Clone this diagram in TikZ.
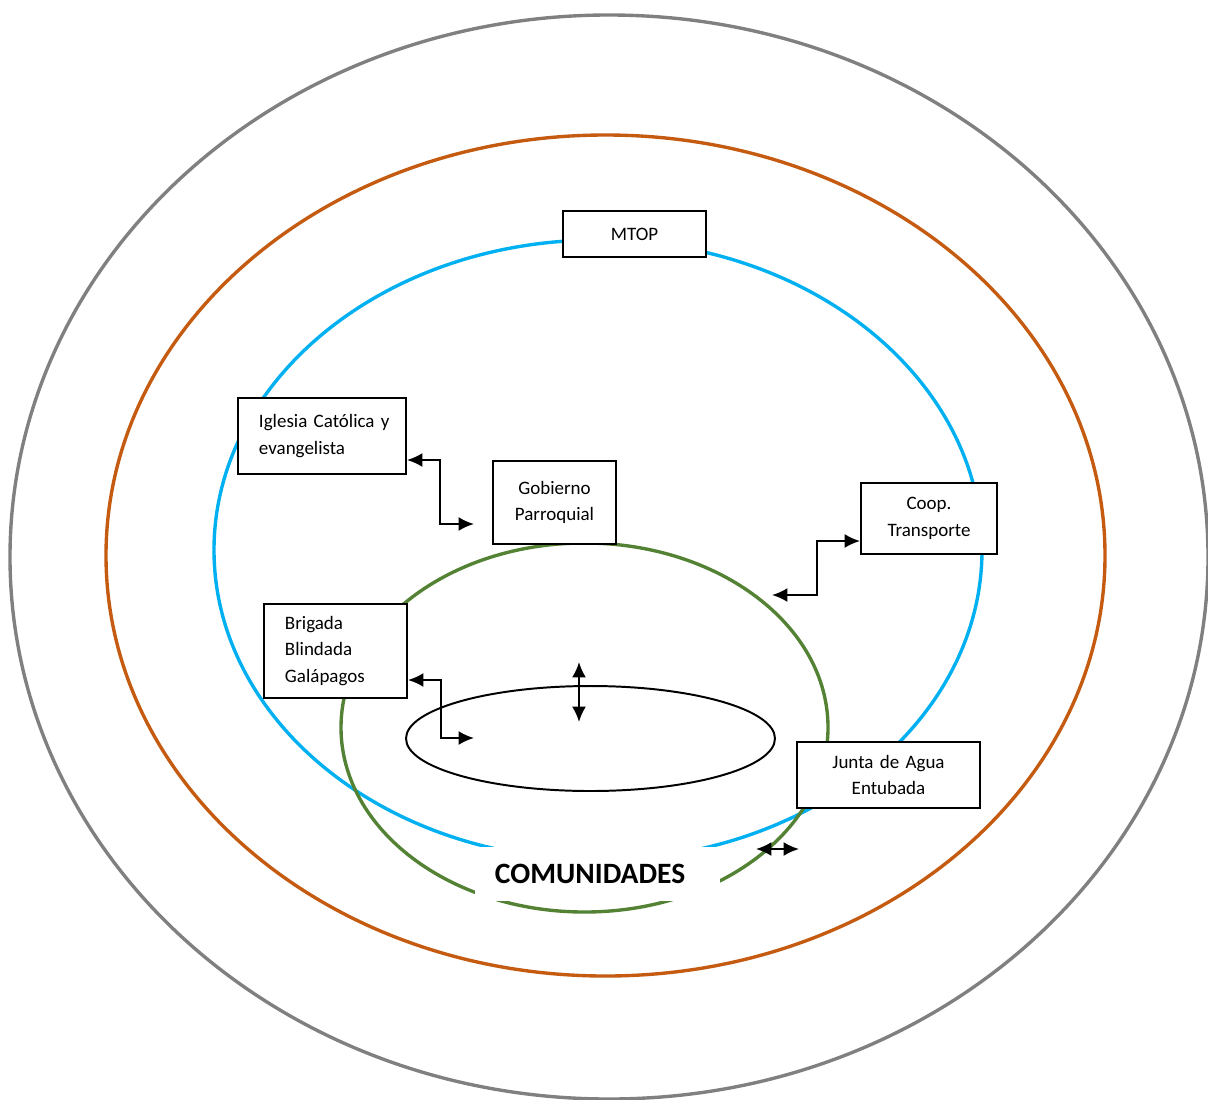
\documentclass[tikz,border=0pt]{standalone}
\usepackage{fontspec}
\setmainfont{Carlito}
\usepackage{tikz}
\usetikzlibrary{arrows.meta,positioning}

\definecolor{ringgray}{RGB}{128,128,128}
\definecolor{ringorange}{RGB}{197,90,17}
\definecolor{ringblue}{RGB}{0,176,240}
\definecolor{ringgreen}{RGB}{84,130,53}

\begin{document}
\begin{tikzpicture}[
    x=0.025cm, y=-0.025cm,
    ring/.style={line width=2.4pt},
    actor/.style={draw, rectangle, fill=white, line width=1.3pt,
                  inner xsep=0.525cm, inner ysep=0pt,
                  font=\fontsize{13.5}{18.8}\selectfont, align=center},
    leftactor/.style={actor, align=left},
    label/.style={fill=white, inner xsep=0.5cm, inner ysep=0pt, text width=5.125cm,
                  align=left, minimum height=1.35cm,
                  font=\fontsize{21}{24}\selectfont\bfseries},
    link/.style={{Latex[length=11pt,width=10pt]}-{Latex[length=11pt,width=10pt]},
                 line width=1.5pt}
]
\useasboundingbox (0,0) rectangle (1208,1099);

% Rings
\draw[ring, ringgray] (609,557) ellipse [x radius=599, y radius=542];
\draw[ring, ringorange] (605.5,555.5) ellipse [x radius=499.5, y radius=420.5];
\draw[ring, ringblue] (598,550) ellipse [x radius=384, y radius=310];
\draw[ring, ringgreen] (584.5,727.5) ellipse [x radius=243.5, y radius=184.5];
\draw[line width=1.4pt] (590.5,738.5) ellipse [x radius=184.5, y radius=52.5];

\node[label] (comunidades) at (597.5,874) {COMUNIDADES};

% Actors
\node[actor, minimum width=3.575cm, minimum height=1.15cm] (mtop) at (634.5,234) {MTOP};
\node[leftactor, text width=3.15cm, minimum height=1.9cm] (iglesia) at (322,436)
  {\mbox{Iglesia Católica y}\\evangelista};
\node[actor, text width=2.025cm, minimum height=2.075cm] (gobierno) at (554.5,502.5)
  {Gobierno\\Parroquial};
\node[actor, text width=2.35cm, minimum height=1.775cm] (coop) at (929,518.5)
  {Coop.\\Transporte};
\node[leftactor, text width=2.525cm, minimum height=2.35cm] (brigada) at (335.5,651)
  {Brigada\\Blindada\\Galápagos};
\node[actor, text width=3.525cm, minimum height=1.65cm] (junta) at (888.5,775)
  {Junta de Agua\\Entubada};

% Links
\coordinate (igEnd) at (474,524);
\coordinate (brEnd) at (474,738);
\coordinate (coEnd) at (772,595);
\coordinate (upEnd) at (579,662);
\coordinate (dnEnd) at (579,722);
\coordinate (juA) at (756,849);
\coordinate (juB) at (799,849);

\draw[link] (iglesia.east |- 0,460) -| (440,524) -- (igEnd);
\draw[link] (brigada.east |- 0,680) -| (441,738) -- (brEnd);
\draw[link] (coop.west |- 0,541) -| (817,595) -- (coEnd);
\draw[link] (upEnd) -- (dnEnd);
\draw[link] (juA) -- (juB);

\end{tikzpicture}
\end{document}
